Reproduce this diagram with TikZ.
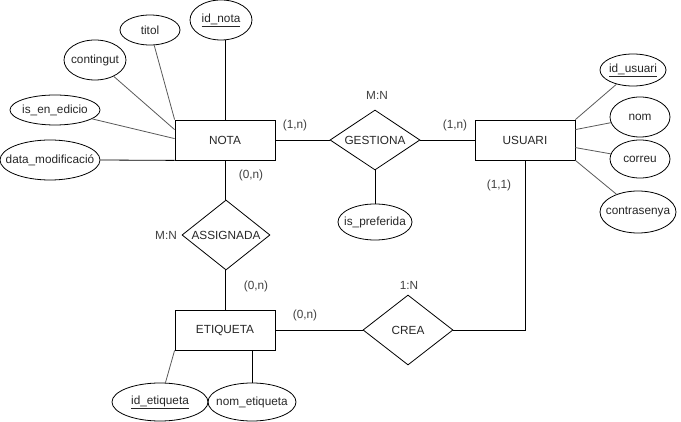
\documentclass[tikz,border=0pt]{standalone}
\usepackage{fontspec}
\setmainfont{Liberation Sans}
\usetikzlibrary{shapes.geometric}
\newcommand\zb[1]{\makebox[0pt]{#1}}
\begin{document}
\begin{tikzpicture}[x=1pt,y=-1pt,
  every node/.style={font=\fontsize{11.8}{14}\selectfont, text=black!85},
  entity/.style={draw, thick, rectangle, minimum width=100pt, minimum height=40pt, inner sep=0pt},
  rel/.style={draw, thick, diamond, aspect=1.5, inner sep=0pt},
  attr/.style={draw, thick, ellipse, inner sep=0pt},
  card/.style={text=black!75},
  link/.style={thick, draw=black},
  alink/.style={thick, draw=black!65}]
\useasboundingbox (0,0) rectangle (681,422);
% entities
\node[entity] (nota) at (225,140) {NOTA};
\node[entity] (usuari) at (525,140) {USUARI};
\node[entity] (etiqueta) at (225,330) {ETIQUETA};
% relationships
\node[rel, minimum width=90pt, minimum height=60pt] (gestiona) at (375,140) {\zb{GESTIONA}};
\node[rel, minimum width=88pt, minimum height=70pt] (assignada) at (226,235) {\zb{ASSIGNADA}};
\node[rel, minimum width=90pt, minimum height=70pt] (crea) at (408,330) {\zb{CREA}};
% NOTA attributes
\node[attr, minimum width=62pt, minimum height=40pt] (idnota) at (221,20) {\zb{\underline{id\_nota}}};
\node[attr, minimum width=60pt, minimum height=30pt] (titol) at (150,30) {\zb{titol}};
\node[attr, minimum width=62pt, minimum height=40pt] (contingut) at (95,60) {\zb{contingut}};
\node[attr, minimum width=90pt, minimum height=30pt] (edicio) at (55,110) {\zb{is\_en\_edicio}};
\node[attr, minimum width=100pt, minimum height=40pt] (datamod) at (50,160) {\zb{data\_modificació}};
% USUARI attributes
\node[attr, minimum width=66pt, minimum height=32pt] (idusuari) at (633,70) {\zb{\underline{id\_usuari}}};
\node[attr, minimum width=60pt, minimum height=40pt] (nom) at (640,117) {\zb{nom}};
\node[attr, minimum width=60pt, minimum height=38pt] (correu) at (640,159) {\zb{correu}};
\node[attr, minimum width=76pt, minimum height=42pt] (contrasenya) at (638,212) {\zb{contrasenya}};
% GESTIONA attribute
\node[attr, minimum width=74pt, minimum height=36pt] (pref) at (375,222) {\zb{is\_preferida}};
% ETIQUETA attributes
\node[attr, minimum width=96pt, minimum height=38pt] (idetiq) at (160,402) {\zb{\underline{id\_etiqueta}}};
\node[attr, minimum width=88pt, minimum height=38pt] (nometiq) at (252,402) {\zb{nom\_etiqueta}};
% corner coordinate
\coordinate (corner) at (usuari.south |- crea.east);
% relationship links
\draw[link] (nota.east) -- (gestiona.west);
\draw[link] (gestiona.east) -- (usuari.west);
\draw[link] (nota.south) -- (assignada.north -| nota.south);
\draw[link] (assignada.south -| etiqueta.north) -- (etiqueta.north);
\draw[link] (etiqueta.east) -- (crea.west);
\draw[link] (crea.east) -- (corner) -- (usuari.south);
\draw[link] (gestiona.south) -- (pref.north);
% attribute links
\draw[link] (idnota.south -| nota.north) -- (nota.north);
\draw[alink] (titol) -- (nota.north west);
\draw[alink] (contingut) -- ([yshift=-10pt]nota.north west);
\draw[alink] (edicio) -- ([yshift=-19pt]nota.north west);
\draw[link] (datamod.east) -- (nota.south west);
\draw[alink] (idusuari) -- (usuari.north east);
\draw[alink] (nom) -- ([yshift=-10pt]usuari.north east);
\draw[alink] (correu) -- ([yshift=-28pt]usuari.north east);
\draw[alink] (contrasenya) -- (usuari.south east);
\draw[alink] (idetiq) -- (etiqueta.south west);
\draw[link] (etiqueta.south -| nometiq.north) -- (nometiq.north);
% labels
\node[card] (c1) at (295,125) {(1,n)};
\node[card] (c2) at (455,125) {(1,n)};
\node[card] (m1) at (377,95) {M:N};
\node[card] (c3) at (251,175) {(0,n)};
\node[card] (m2) at (166,235) {M:N};
\node[card] (c4) at (256,286) {(0,n)};
\node[card] (c5) at (305,315) {(0,n)};
\node[card] (m3) at (409,285) {1:N};
\node[card] (c6) at (499,185) {(1,1)};
\end{tikzpicture}
\end{document}
